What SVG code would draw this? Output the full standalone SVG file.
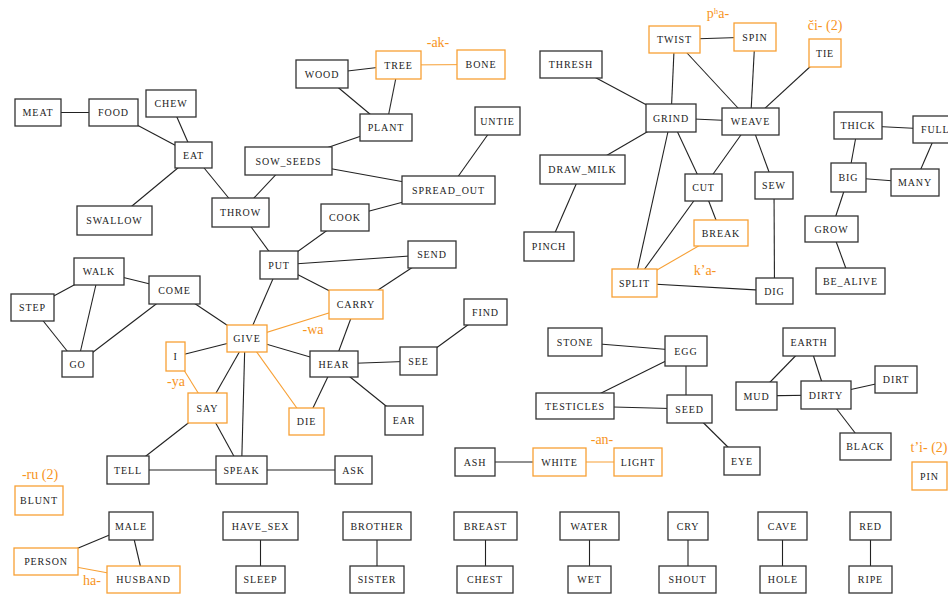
<svg xmlns="http://www.w3.org/2000/svg" width="948" height="597" viewBox="0 0 948 597" font-family="'Liberation Serif', 'Times New Roman', 'DejaVu Serif', serif">
<style>
rect{fill:#fff;stroke:#333;stroke-width:1.3}
.o rect{stroke:#F7A035}
text{font-size:10px;letter-spacing:0.9px;fill:#222;text-anchor:middle;dominant-baseline:central}
.lab{font-size:14px;letter-spacing:0;fill:#F7941D}
#edges line{stroke:#222;stroke-width:1.1}
#edges line.o{stroke:#F7A035}
</style>
<rect x="0" y="0" width="948" height="597" style="fill:#fff;stroke:none"/>
<g id="edges">
<line x1="38" y1="112.5" x2="113.5" y2="112.5"/>
<line x1="113.5" y1="112.5" x2="193.5" y2="155"/>
<line x1="171" y1="103.5" x2="193.5" y2="155"/>
<line x1="193.5" y1="155" x2="114.5" y2="220.5"/>
<line x1="193.5" y1="155" x2="240.5" y2="212.5"/>
<line x1="240.5" y1="212.5" x2="288.5" y2="161"/>
<line x1="288.5" y1="161" x2="386" y2="127.5"/>
<line x1="288.5" y1="161" x2="448.5" y2="190"/>
<line x1="322" y1="74" x2="398.5" y2="65"/>
<line x1="322" y1="74" x2="386" y2="127.5"/>
<line x1="398.5" y1="65" x2="386" y2="127.5"/>
<line class="o" x1="398.5" y1="65" x2="481" y2="64.5"/>
<line x1="497.5" y1="121" x2="448.5" y2="190"/>
<line x1="448.5" y1="190" x2="345" y2="217.5"/>
<line x1="345" y1="217.5" x2="279" y2="265"/>
<line x1="240.5" y1="212.5" x2="279" y2="265"/>
<line x1="279" y1="265" x2="432" y2="254.5"/>
<line x1="279" y1="265" x2="356" y2="304.5"/>
<line x1="279" y1="265" x2="247" y2="338.5"/>
<line x1="432" y1="254.5" x2="356" y2="304.5"/>
<line class="o" x1="356" y1="304.5" x2="247" y2="338.5"/>
<line x1="356" y1="304.5" x2="334" y2="364"/>
<line x1="247" y1="338.5" x2="334" y2="364"/>
<line x1="247" y1="338.5" x2="175.5" y2="356.5"/>
<line x1="247" y1="338.5" x2="174.5" y2="290"/>
<line x1="247" y1="338.5" x2="207.5" y2="408"/>
<line x1="245" y1="338.5" x2="241.5" y2="470"/>
<line class="o" x1="247" y1="338.5" x2="306.5" y2="421.5"/>
<line class="o" x1="175.5" y1="356.5" x2="207.5" y2="408"/>
<line x1="334" y1="364" x2="418.5" y2="361"/>
<line x1="334" y1="364" x2="306.5" y2="421.5"/>
<line x1="334" y1="364" x2="404" y2="420.5"/>
<line x1="418.5" y1="361" x2="485.5" y2="312"/>
<line x1="99" y1="271.5" x2="32.5" y2="307.5"/>
<line x1="99" y1="271.5" x2="77.5" y2="364"/>
<line x1="99" y1="271.5" x2="174.5" y2="290"/>
<line x1="32.5" y1="307.5" x2="77.5" y2="364"/>
<line x1="77.5" y1="364" x2="174.5" y2="290"/>
<line x1="207.5" y1="408" x2="128" y2="470"/>
<line x1="207.5" y1="408" x2="241.5" y2="470"/>
<line x1="128" y1="470" x2="241.5" y2="470"/>
<line x1="241.5" y1="470" x2="353.5" y2="470"/>
<line x1="46" y1="561.5" x2="131" y2="526"/>
<line class="o" x1="46" y1="561.5" x2="143.5" y2="579.5"/>
<line x1="131" y1="526" x2="143.5" y2="579.5"/>
<line x1="260.5" y1="526" x2="260.5" y2="579.5"/>
<line x1="377" y1="526" x2="377" y2="579.5"/>
<line x1="485.5" y1="526" x2="485.5" y2="579.5"/>
<line x1="589.5" y1="526" x2="589.5" y2="579.5"/>
<line x1="688" y1="526" x2="688" y2="579.5"/>
<line x1="782.5" y1="526" x2="782.5" y2="579.5"/>
<line x1="870.5" y1="526" x2="870.5" y2="579.5"/>
<line x1="475" y1="462" x2="559.5" y2="462"/>
<line class="o" x1="559.5" y1="462" x2="638" y2="462"/>
<line x1="575" y1="342" x2="686" y2="351"/>
<line x1="575" y1="406" x2="686" y2="351"/>
<line x1="686" y1="351" x2="686" y2="409"/>
<line x1="575" y1="406" x2="689.5" y2="409"/>
<line x1="689.5" y1="409" x2="742" y2="461"/>
<line x1="809" y1="342" x2="756.5" y2="396"/>
<line x1="809" y1="342" x2="826" y2="395"/>
<line x1="756.5" y1="396" x2="826" y2="395"/>
<line x1="826" y1="395" x2="896" y2="379.5"/>
<line x1="826" y1="395" x2="865.5" y2="446.5"/>
<line x1="571" y1="64.5" x2="671" y2="118"/>
<line x1="671" y1="118" x2="674.5" y2="39.5"/>
<line x1="674.5" y1="39.5" x2="755" y2="37"/>
<line x1="674.5" y1="39.5" x2="750.5" y2="121.5"/>
<line x1="755" y1="37" x2="750.5" y2="121.5"/>
<line x1="825" y1="53" x2="750.5" y2="121.5"/>
<line x1="671" y1="118" x2="750.5" y2="121.5"/>
<line x1="671" y1="118" x2="582.5" y2="169.5"/>
<line x1="671" y1="118" x2="703.5" y2="187.5"/>
<line x1="671" y1="118" x2="634.5" y2="283"/>
<line x1="750.5" y1="121.5" x2="703.5" y2="187.5"/>
<line x1="750.5" y1="121.5" x2="774" y2="185.5"/>
<line x1="582.5" y1="169.5" x2="549" y2="246.5"/>
<line x1="703.5" y1="187.5" x2="721" y2="233"/>
<line x1="703.5" y1="187.5" x2="634.5" y2="283"/>
<line class="o" x1="634.5" y1="283" x2="721" y2="233"/>
<line x1="634.5" y1="283" x2="774.5" y2="291"/>
<line x1="774" y1="185.5" x2="774.5" y2="291"/>
<line x1="858" y1="125.5" x2="938" y2="129.5"/>
<line x1="858" y1="125.5" x2="848.5" y2="177.5"/>
<line x1="938" y1="129.5" x2="915" y2="182.5"/>
<line x1="848.5" y1="177.5" x2="915" y2="182.5"/>
<line x1="848.5" y1="177.5" x2="831.5" y2="229"/>
<line x1="831.5" y1="229" x2="850.5" y2="281"/>
</g>
<g id="n_CHEW"><rect x="146" y="90" width="50" height="27"/><text x="171" y="103.5">CHEW</text></g>
<g id="n_MEAT"><rect x="15" y="99" width="46" height="27"/><text x="38" y="112.5">MEAT</text></g>
<g id="n_FOOD"><rect x="89" y="99" width="49" height="27"/><text x="113.5" y="112.5">FOOD</text></g>
<g id="n_EAT"><rect x="175" y="142" width="37" height="26"/><text x="193.5" y="155">EAT</text></g>
<g id="n_SWALLOW"><rect x="77" y="206" width="75" height="29"/><text x="114.5" y="220.5">SWALLOW</text></g>
<g id="n_THROW"><rect x="212" y="198" width="57" height="29"/><text x="240.5" y="212.5">THROW</text></g>
<g id="n_SOW_SEEDS"><rect x="245" y="147" width="87" height="28"/><text x="288.5" y="161">SOW_SEEDS</text></g>
<g id="n_WOOD"><rect x="296" y="60" width="52" height="28"/><text x="322" y="74">WOOD</text></g>
<g id="n_TREE" class="o"><rect x="376" y="51" width="45" height="28"/><text x="398.5" y="65">TREE</text></g>
<g id="n_BONE" class="o"><rect x="457" y="50" width="48" height="29"/><text x="481" y="64.5">BONE</text></g>
<g id="n_PLANT"><rect x="360" y="114" width="52" height="27"/><text x="386" y="127.5">PLANT</text></g>
<g id="n_UNTIE"><rect x="475" y="107" width="45" height="28"/><text x="497.5" y="121">UNTIE</text></g>
<g id="n_SPREAD_OUT"><rect x="402" y="176" width="93" height="28"/><text x="448.5" y="190">SPREAD_OUT</text></g>
<g id="n_COOK"><rect x="321" y="204" width="48" height="27"/><text x="345" y="217.5">COOK</text></g>
<g id="n_TWIST" class="o"><rect x="649" y="26" width="51" height="27"/><text x="674.5" y="39.5">TWIST</text></g>
<g id="n_SPIN" class="o"><rect x="734" y="23" width="42" height="28"/><text x="755" y="37">SPIN</text></g>
<g id="n_TIE" class="o"><rect x="809" y="39" width="32" height="28"/><text x="825" y="53">TIE</text></g>
<g id="n_THRESH"><rect x="540" y="51" width="62" height="27"/><text x="571" y="64.5">THRESH</text></g>
<g id="n_GRIND"><rect x="646" y="104" width="50" height="28"/><text x="671" y="118">GRIND</text></g>
<g id="n_WEAVE"><rect x="722" y="108" width="57" height="27"/><text x="750.5" y="121.5">WEAVE</text></g>
<g id="n_THICK"><rect x="834" y="112" width="48" height="27"/><text x="858" y="125.5">THICK</text></g>
<g id="n_FULL"><rect x="913" y="116" width="50" height="27"/><text x="921" y="129.5" style="text-anchor:start">FULL</text></g>
<g id="n_DRAW_MILK"><rect x="540" y="155" width="85" height="29"/><text x="582.5" y="169.5">DRAW_MILK</text></g>
<g id="n_CUT"><rect x="685" y="174" width="37" height="27"/><text x="703.5" y="187.5">CUT</text></g>
<g id="n_SEW"><rect x="755" y="172" width="38" height="27"/><text x="774" y="185.5">SEW</text></g>
<g id="n_BIG"><rect x="831" y="163" width="35" height="29"/><text x="848.5" y="177.5">BIG</text></g>
<g id="n_MANY"><rect x="891" y="169" width="48" height="27"/><text x="915" y="182.5">MANY</text></g>
<g id="n_PINCH"><rect x="524" y="232" width="50" height="29"/><text x="549" y="246.5">PINCH</text></g>
<g id="n_BREAK" class="o"><rect x="694" y="220" width="54" height="26"/><text x="721" y="233">BREAK</text></g>
<g id="n_SPLIT" class="o"><rect x="612" y="269" width="45" height="28"/><text x="634.5" y="283">SPLIT</text></g>
<g id="n_DIG"><rect x="756" y="278" width="37" height="26"/><text x="774.5" y="291">DIG</text></g>
<g id="n_GROW"><rect x="805" y="216" width="53" height="26"/><text x="831.5" y="229">GROW</text></g>
<g id="n_BE_ALIVE"><rect x="816" y="268" width="69" height="26"/><text x="850.5" y="281">BE_ALIVE</text></g>
<g id="n_PUT"><rect x="260" y="251" width="38" height="28"/><text x="279" y="265">PUT</text></g>
<g id="n_WALK"><rect x="74" y="258" width="50" height="27"/><text x="99" y="271.5">WALK</text></g>
<g id="n_STEP"><rect x="11" y="294" width="43" height="27"/><text x="32.5" y="307.5">STEP</text></g>
<g id="n_COME"><rect x="149" y="276" width="51" height="28"/><text x="174.5" y="290">COME</text></g>
<g id="n_GO"><rect x="62" y="351" width="31" height="26"/><text x="77.5" y="364">GO</text></g>
<g id="n_GIVE" class="o"><rect x="227" y="325" width="40" height="27"/><text x="247" y="338.5">GIVE</text></g>
<g id="n_I" class="o"><rect x="166" y="342" width="19" height="29"/><text x="175.5" y="356.5">I</text></g>
<g id="n_SAY" class="o"><rect x="188" y="393" width="39" height="30"/><text x="207.5" y="408">SAY</text></g>
<g id="n_DIE" class="o"><rect x="289" y="408" width="35" height="27"/><text x="306.5" y="421.5">DIE</text></g>
<g id="n_SEND"><rect x="408" y="241" width="48" height="27"/><text x="432" y="254.5">SEND</text></g>
<g id="n_CARRY" class="o"><rect x="329" y="290" width="54" height="29"/><text x="356" y="304.5">CARRY</text></g>
<g id="n_FIND"><rect x="464" y="299" width="43" height="26"/><text x="485.5" y="312">FIND</text></g>
<g id="n_HEAR"><rect x="310" y="351" width="48" height="26"/><text x="334" y="364">HEAR</text></g>
<g id="n_SEE"><rect x="400" y="347" width="37" height="28"/><text x="418.5" y="361">SEE</text></g>
<g id="n_EAR"><rect x="385" y="406" width="38" height="29"/><text x="404" y="420.5">EAR</text></g>
<g id="n_STONE"><rect x="548" y="328" width="54" height="28"/><text x="575" y="342">STONE</text></g>
<g id="n_EGG"><rect x="665" y="336" width="42" height="30"/><text x="686" y="351">EGG</text></g>
<g id="n_TESTICLES"><rect x="536" y="393" width="78" height="26"/><text x="575" y="406">TESTICLES</text></g>
<g id="n_SEED"><rect x="667" y="395" width="45" height="28"/><text x="689.5" y="409">SEED</text></g>
<g id="n_WHITE" class="o"><rect x="533" y="448" width="53" height="28"/><text x="559.5" y="462">WHITE</text></g>
<g id="n_LIGHT" class="o"><rect x="614" y="448" width="48" height="28"/><text x="638" y="462">LIGHT</text></g>
<g id="n_EYE"><rect x="724" y="447" width="36" height="28"/><text x="742" y="461">EYE</text></g>
<g id="n_EARTH"><rect x="783" y="328" width="52" height="28"/><text x="809" y="342">EARTH</text></g>
<g id="n_MUD"><rect x="736" y="382" width="41" height="28"/><text x="756.5" y="396">MUD</text></g>
<g id="n_DIRTY"><rect x="801" y="381" width="50" height="28"/><text x="826" y="395">DIRTY</text></g>
<g id="n_DIRT"><rect x="875" y="366" width="42" height="27"/><text x="896" y="379.5">DIRT</text></g>
<g id="n_BLACK"><rect x="840" y="433" width="51" height="27"/><text x="865.5" y="446.5">BLACK</text></g>
<g id="n_PIN" class="o"><rect x="912" y="462" width="35" height="28"/><text x="929.5" y="476">PIN</text></g>
<g id="n_TELL"><rect x="107" y="456" width="42" height="28"/><text x="128" y="470">TELL</text></g>
<g id="n_SPEAK"><rect x="216" y="456" width="51" height="28"/><text x="241.5" y="470">SPEAK</text></g>
<g id="n_ASK"><rect x="335" y="456" width="37" height="28"/><text x="353.5" y="470">ASK</text></g>
<g id="n_ASH"><rect x="455" y="448" width="40" height="28"/><text x="475" y="462">ASH</text></g>
<g id="n_BLUNT" class="o"><rect x="15" y="486" width="48" height="29"/><text x="39" y="500.5">BLUNT</text></g>
<g id="n_MALE"><rect x="109" y="512" width="44" height="28"/><text x="131" y="526">MALE</text></g>
<g id="n_PERSON" class="o"><rect x="14" y="548" width="64" height="27"/><text x="46" y="561.5">PERSON</text></g>
<g id="n_HUSBAND" class="o"><rect x="107" y="566" width="73" height="27"/><text x="143.5" y="579.5">HUSBAND</text></g>
<g id="n_HAVE_SEX"><rect x="223" y="512" width="75" height="28"/><text x="260.5" y="526">HAVE_SEX</text></g>
<g id="n_SLEEP"><rect x="236" y="566" width="49" height="27"/><text x="260.5" y="579.5">SLEEP</text></g>
<g id="n_BROTHER"><rect x="343" y="512" width="68" height="28"/><text x="377" y="526">BROTHER</text></g>
<g id="n_SISTER"><rect x="350" y="566" width="54" height="27"/><text x="377" y="579.5">SISTER</text></g>
<g id="n_BREAST"><rect x="454" y="512" width="63" height="28"/><text x="485.5" y="526">BREAST</text></g>
<g id="n_CHEST"><rect x="457" y="566" width="56" height="27"/><text x="485" y="579.5">CHEST</text></g>
<g id="n_WATER"><rect x="560" y="512" width="59" height="28"/><text x="589.5" y="526">WATER</text></g>
<g id="n_WET"><rect x="568" y="566" width="43" height="27"/><text x="589.5" y="579.5">WET</text></g>
<g id="n_CRY"><rect x="668" y="512" width="40" height="28"/><text x="688" y="526">CRY</text></g>
<g id="n_SHOUT"><rect x="659" y="566" width="57" height="27"/><text x="687.5" y="579.5">SHOUT</text></g>
<g id="n_CAVE"><rect x="758" y="512" width="49" height="28"/><text x="782.5" y="526">CAVE</text></g>
<g id="n_HOLE"><rect x="760" y="566" width="46" height="27"/><text x="783" y="579.5">HOLE</text></g>
<g id="n_RED"><rect x="850" y="512" width="41" height="28"/><text x="870.5" y="526">RED</text></g>
<g id="n_RIPE"><rect x="849" y="566" width="43" height="27"/><text x="870.5" y="579.5">RIPE</text></g>
<g id="labels">
<text class="lab" x="438" y="42">-ak-</text>
<text class="lab" x="718" y="13">pʰa-</text>
<text class="lab" x="825" y="25">či- (2)</text>
<text class="lab" x="705" y="270">k’a-</text>
<text class="lab" x="313" y="329">-wa</text>
<text class="lab" x="176" y="381">-ya</text>
<text class="lab" x="602" y="439">-an-</text>
<text class="lab" x="929" y="447">t’i- (2)</text>
<text class="lab" x="40" y="474">-ru (2)</text>
<text class="lab" x="92" y="580">ha-</text>
</g>
</svg>
